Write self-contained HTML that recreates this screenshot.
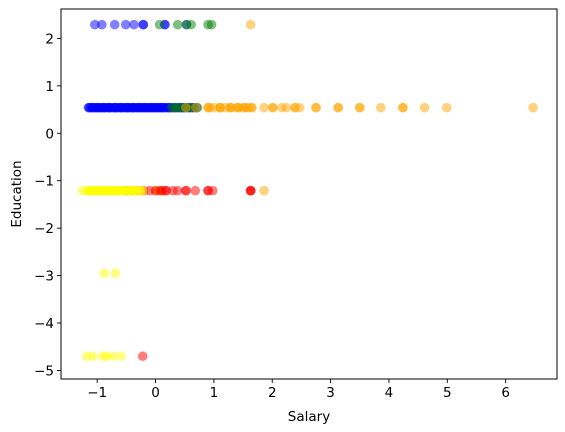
<!DOCTYPE html>
<html><head><meta charset="utf-8"><style>
html,body{margin:0;padding:0;background:#fff;}
svg{display:block;font-family:"DejaVu Sans","Liberation Sans",sans-serif;}
</style></head><body>
<svg id="chart" width="565" height="432" viewBox="0 0 565 432" xmlns="http://www.w3.org/2000/svg">
<g id="marks"></g>
<g id="axes"></g>
</svg>
<script>
const xTicks=[-1,0,1,2,3,4,5,6];
const yTicks=[2,1,0,-1,-2,-3,-4,-5];
// blue series
const blueX=[-1.04,-0.92,-0.70,-0.51,-0.37,-0.21,-0.21,0.16,0.16,0.53,
-1.15,-1.12,-1.08,-1.05,-1.02,-0.99,-0.96,-0.93,-0.90,-0.87,-0.84,-0.81,-0.78,-0.75,-0.72,-0.69,-0.66,-0.63,-0.60,-0.57,-0.54,-0.51,-0.48,-0.45,-0.42,-0.39,-0.36,-0.33,-0.30,-0.27,-0.24,-0.21,-0.18,-0.15,-0.12,-0.09,-0.06,-0.03,0.00,0.03,0.06,0.09,0.12,0.15,0.18,0.21,0.24,0.30,0.36,0.42,0.48,0.55,0.62,0.70,
-1.10,-1.00,-0.90,-0.80,-0.70,-0.60,-0.50,-0.40,-0.30,-0.20,-0.10,0.0,0.10,
-1.14,-1.06,-0.97,-0.88,-0.79,-0.68,-0.58,-0.47,-0.37,-0.26,-0.16,-0.05,0.05,0.14,0.22,0.27,0.33,0.40,0.45,0.50,0.58,0.66];
const blueY=[2.29,2.29,2.29,2.29,2.29,2.29,2.29,2.29,2.29,2.29,
0.54,0.54,0.54,0.54,0.54,0.54,0.54,0.54,0.54,0.54,0.54,0.54,0.54,0.54,0.54,0.54,0.54,0.54,0.54,0.54,0.54,0.54,0.54,0.54,0.54,0.54,0.54,0.54,0.54,0.54,0.54,0.54,0.54,0.54,0.54,0.54,0.54,0.54,0.54,0.54,0.54,0.54,0.54,0.54,0.54,0.54,0.54,0.54,0.54,0.54,0.54,0.54,0.54,0.54,
0.54,0.54,0.54,0.54,0.54,0.54,0.54,0.54,0.54,0.54,0.54,0.54,0.54,
0.54,0.54,0.54,0.54,0.54,0.54,0.54,0.54,0.54,0.54,0.54,0.54,0.54,0.54,0.54,0.54,0.54,0.54,0.54,0.54,0.54,0.54];
// green series
const greenX=[0.07,0.38,0.53,0.61,0.90,0.96,0.28,0.34,0.40,0.46,0.52,0.58,0.64,0.72];
const greenY=[2.29,2.29,2.29,2.29,2.29,2.29,0.54,0.54,0.54,0.54,0.54,0.54,0.54,0.54];
// orange series
const orangeX=[1.63,0.52,0.69,0.90,1.11,1.28,1.42,1.54,1.65,1.86,2.01,2.16,2.24,2.39,2.47,2.75,3.13,3.50,3.86,4.24,4.61,4.99,6.47,0.93,1.00,1.10,1.20,1.30,1.40,1.50,1.60,0.0,0.05,0.10,1.86,
0.90,1.11,1.28,1.42,1.54,1.65,2.01,2.39,2.75,3.13,3.50,4.24];
const orangeY=[2.29,0.54,0.54,0.54,0.54,0.54,0.54,0.54,0.54,0.54,0.54,0.54,0.54,0.54,0.54,0.54,0.54,0.54,0.54,0.54,0.54,0.54,0.54,0.54,0.54,0.54,0.54,0.54,0.54,0.54,0.54,-1.21,-1.21,-1.21,-1.21,
0.54,0.54,0.54,0.54,0.54,0.54,0.54,0.54,0.54,0.54,0.54,0.54];
// red series
const redX=[-0.50,-0.40,-0.30,-0.20,-0.10,0.0,0.08,0.12,0.18,0.18,0.30,0.38,0.52,0.52,0.68,0.90,0.90,0.98,1.63,1.63,1.63,-0.22];
const redY=[-1.21,-1.21,-1.21,-1.21,-1.21,-1.21,-1.21,-1.21,-1.21,-1.21,-1.21,-1.21,-1.21,-1.21,-1.21,-1.21,-1.21,-1.21,-1.21,-1.21,-1.21,-4.70];
// yellow series
const yellowX=[-1.25,-1.18,-1.14,-1.10,-1.06,-1.02,-0.98,-0.94,-0.90,-0.86,-0.82,-0.78,-0.74,-0.70,-0.66,-0.62,-0.58,-0.54,-0.50,-0.46,-0.42,-0.38,-0.34,-0.30,-0.26,-0.22,
-1.12,-1.04,-0.96,-0.88,-0.80,-0.72,-0.64,-0.56,-0.48,-0.40,-0.32,-1.08,-0.92,-0.76,-0.60,-0.44,
-0.88,-0.69,-1.18,-1.07,-0.90,-0.84,-0.73,-0.59];
const yellowY=[-1.21,-1.21,-1.21,-1.21,-1.21,-1.21,-1.21,-1.21,-1.21,-1.21,-1.21,-1.21,-1.21,-1.21,-1.21,-1.21,-1.21,-1.21,-1.21,-1.21,-1.21,-1.21,-1.21,-1.21,-1.21,-1.21,
-1.21,-1.21,-1.21,-1.21,-1.21,-1.21,-1.21,-1.21,-1.21,-1.21,-1.21,-1.21,-1.21,-1.21,-1.21,-1.21,
-2.95,-2.95,-4.70,-4.70,-4.70,-4.70,-4.70,-4.70];

const L=61,R=557,T=9,B=379;
const xMin=-1.62,xMax=6.88,yMin=-5.18,yMax=2.62;
function sx(v){return L+(v-xMin)/(xMax-xMin)*(R-L);}
function sy(v){return B-(v-yMin)/(yMax-yMin)*(B-T);}
const NS="http://www.w3.org/2000/svg";
const marks=document.getElementById('marks');
const axes=document.getElementById('axes');
function mk(tag,attrs,parent){const e=document.createElementNS(NS,tag);for(const k in attrs)e.setAttribute(k,attrs[k]);parent.appendChild(e);return e;}
function series(xs,ys,color,name){
  const g=mk('g',{},marks);
  
  
  for(let i=0;i<xs.length;i++){
    const c=mk('circle',{cx:sx(xs[i]),cy:sy(ys[i]),r:4.8,fill:color,'fill-opacity':0.5},g);
    
    
  }
}
series(blueX,blueY,'#0000ff','blue');
series(greenX,greenY,'#008000','green');
series(orangeX,orangeY,'#ffa500','orange');
series(redX,redY,'#ff0000','red');
series(yellowX,yellowY,'#ffff00','yellow');

const frame=mk('rect',{x:L,y:T,width:R-L,height:B-T,fill:'none',stroke:'#000','stroke-width':1},axes);


xTicks.forEach(t=>{
  const x=sx(t);
  const l=mk('line',{x1:x,x2:x,y1:B,y2:B+4,stroke:'#000','stroke-width':0.9},axes);
  
  
  const tx=mk('text',{x:x,y:B+18,'text-anchor':'middle','font-size':13.5,fill:'#000'},axes);
  tx.textContent=(t<0?'\u2212'+(-t):String(t));
  
  
});
yTicks.forEach(t=>{
  const y=sy(t);
  const l=mk('line',{x1:L-4,x2:L,y1:y,y2:y,stroke:'#000','stroke-width':0.9},axes);
  
  
  const tx=mk('text',{x:L-7,y:y+5,'text-anchor':'end','font-size':13.5,fill:'#000'},axes);
  tx.textContent=(t<0?'\u2212'+(-t):String(t));
  
  
});
const xl=mk('text',{x:(L+R)/2,y:421,'text-anchor':'middle','font-size':13.5,fill:'#000'},axes);
xl.textContent='Salary';


const yl=mk('text',{x:0,y:0,'text-anchor':'middle','font-size':13.5,fill:'#000',transform:'translate(21,'+((T+B)/2)+') rotate(-90)'},axes);
yl.textContent='Education';


</script>
</body></html>
